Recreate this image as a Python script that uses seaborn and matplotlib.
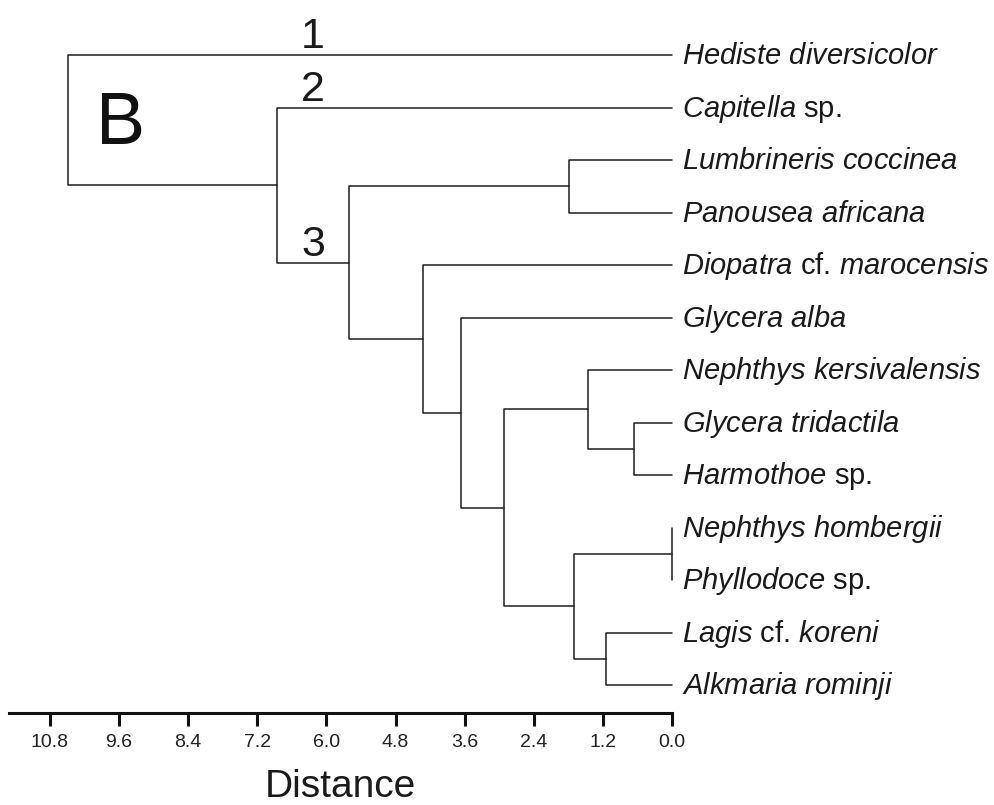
import numpy as np
import pandas as pd
import matplotlib
matplotlib.use("Agg")
import matplotlib.pyplot as plt
import seaborn as sns

# leaves, top to bottom
leaves = [
    r"$\mathit{Hediste\ diversicolor}$",
    r"$\mathit{Capitella}$ sp.",
    r"$\mathit{Lumbrineris\ coccinea}$",
    r"$\mathit{Panousea\ africana}$",
    r"$\mathit{Diopatra}$ cf. $\mathit{marocensis}$",
    r"$\mathit{Glycera\ alba}$",
    r"$\mathit{Nephthys\ kersivalensis}$",
    r"$\mathit{Glycera\ tridactila}$",
    r"$\mathit{Harmothoe}$ sp.",
    r"$\mathit{Nephthys\ hombergii}$",
    r"$\mathit{Phyllodoce}$ sp.",
    r"$\mathit{Lagis}$ cf. $\mathit{koreni}$",
    r"$\mathit{Alkmaria\ rominji}$",
]

# merges (child a, child b, distance); new nodes numbered from 13 on
merge_a = [9, 7, 11, 6, 13, 2, 16, 5, 4, 18, 1, 0]
merge_b = [10, 8, 12, 14, 15, 3, 17, 19, 20, 21, 22, 23]
merge_h = [0.0, 0.66, 1.15, 1.46, 1.71, 1.79, 2.92, 3.66, 4.32, 5.61, 6.86, 10.49]

tick_values = [10.8, 9.6, 8.4, 7.2, 6.0, 4.8, 3.6, 2.4, 1.2, 0.0]

# build the dendrogram segments
ypos = {i: float(i) for i in range(len(leaves))}
hpos = {i: 0.0 for i in range(len(leaves))}
rows = []
for k, (a, b, h) in enumerate(zip(merge_a, merge_b, merge_h)):
    node = len(leaves) + k
    pts = [(hpos[a], ypos[a]), (h, ypos[a]), (h, ypos[b]), (hpos[b], ypos[b])]
    for x, y in pts:
        rows.append({"seg": k, "x": x, "y": y})
    ypos[node] = (ypos[a] + ypos[b]) / 2
    hpos[node] = h
seg_df = pd.DataFrame(rows)

sns.set_style("white")
plt.rcParams["font.family"] = ["Liberation Sans", "DejaVu Sans"]
plt.rcParams["mathtext.fontset"] = "custom"
plt.rcParams["mathtext.it"] = "Liberation Sans:italic"
plt.rcParams["mathtext.rm"] = "Liberation Sans"

fig = plt.figure(figsize=(9.95, 8.05), dpi=100)
ax = fig.add_axes([9 / 995, (805 - 713) / 805, (672 - 9) / 995, 713 / 805])

sns.lineplot(data=seg_df, x="x", y="y", units="seg", estimator=None, sort=False,
             color="#1e1e1e", lw=1.1, ax=ax, legend=False)
for ln in ax.lines:
    ln.set_clip_on(False)

ax.set_xlim(11.51, 0)
ax.set_ylim(12.533, -1.048)
ax.set_xticks(tick_values)
ax.set_xticklabels([f"{t:.1f}" for t in tick_values])
ax.set_yticks([])
ax.set_ylabel("")
for s in ["top", "left", "right"]:
    ax.spines[s].set_visible(False)
ax.spines["bottom"].set_linewidth(2.2)
ax.spines["bottom"].set_color("#111111")
ax.tick_params(axis="x", length=9, width=2.2, direction="out", labelsize=14,
               pad=6, colors="#111111", labelcolor="#222222", bottom=True)
ax.set_xlabel("Distance", fontsize=28, labelpad=13, color="#1a1a1a")

for i, lab in enumerate(leaves):
    ax.annotate(lab, xy=(0, i), xytext=(7, -1), textcoords="offset points",
                ha="left", va="center", fontsize=21, color="#1a1a1a",
                annotation_clip=False)

# cluster numbers and panel letter
for txt, node in [("1", 0), ("2", 1), ("3", 22)]:
    ax.annotate(txt, xy=(6.23, ypos[node]), xytext=(0, 5), textcoords="offset points",
                ha="center", va="baseline", fontsize=31, color="#1a1a1a")
ax.text(9.57, 1.695, "B", ha="center", va="baseline", fontsize=53, color="#111111")

fig.savefig("out.png", dpi=100)
